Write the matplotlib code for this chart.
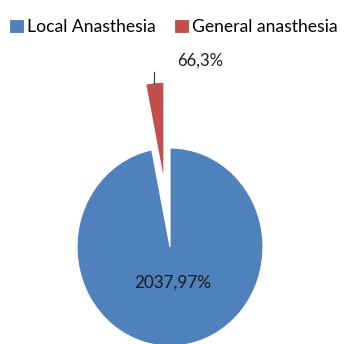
import matplotlib
matplotlib.use("Agg")
import matplotlib.pyplot as plt

categories = ["Local Anasthesia", "General anasthesia"]
counts = [2037, 66]
colors = ["#4F81BD", "#C0504D"]
explode_amt = [0.0, 0.667]

W, H = 347, 344
fig = plt.figure(figsize=(W / 100, H / 100), dpi=100)
ax = fig.add_axes([0, 0, 1, 1])

# pixel geometry of the pie (image coords: origin top-left)
cx, cy = 170, 247
rx, ry = 93, 99

total = sum(counts)
pcts = [round(100 * c / total) for c in counts]

wedges, _ = ax.pie(counts, colors=colors, startangle=90, counterclock=False,
                   explode=explode_amt, radius=1.0, center=(0, 0),
                   wedgeprops=dict(linewidth=0.8, edgecolor="white"),
                   frame=True)
ax.set_aspect("auto")
ax.set_xlim((0 - cx) / rx, (W - cx) / rx)
ax.set_ylim((cy - H) / ry, (cy - 0) / ry)
ax.axis("off")

def px(x, y):
    return ((x - cx) / rx, (cy - y) / ry)

font = ["Lato", "DejaVu Sans"]
labels = [f"{c},{p}%" for c, p in zip(counts, pcts)]
ax.text(*px(173, 283), labels[0], ha="center", va="center", fontsize=12.3,
        family=font, color="#1a1a1a")
ax.text(*px(200, 61), labels[1], ha="center", va="center", fontsize=12,
        family=font, color="#1a1a1a")
ax.plot(*zip(px(154, 72), px(154, 83)), color="#404040", linewidth=0.9)

fig.legend(wedges, categories, loc="upper left", bbox_to_anchor=(9 / W, 1 - 19 / H),
           ncol=2, frameon=False, prop=dict(family=font, size=12.6),
           handlelength=0.85, handleheight=0.85, handletextpad=0.2,
           columnspacing=1.0, borderaxespad=0, borderpad=0)

fig.savefig("out.png", dpi=100)
